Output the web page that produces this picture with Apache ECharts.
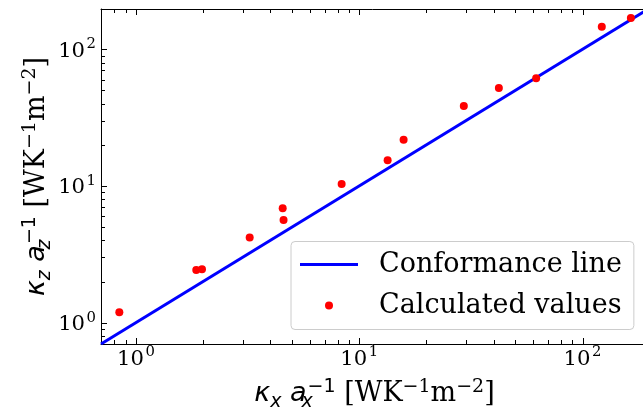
<!DOCTYPE html>
<html>
<head>
<meta charset="utf-8">
<script src="https://cdn.jsdelivr.net/npm/echarts@6/dist/echarts.min.js"></script>
<style>
html,body{margin:0;padding:0;background:#fff;}
#chart{width:643px;height:416px;}
</style>
</head>
<body>
<div id="chart"></div>
<script>
// ---- data ----
const calcX = [0.842, 1.862, 1.975, 3.23, 4.54, 4.58, 8.34, 13.4, 15.8, 29.4, 42.2, 62.0, 122, 164.7];
const calcY = [1.19, 2.43, 2.46, 4.19, 6.87, 5.64, 10.34, 15.4, 21.8, 38.5, 52.1, 61.4, 146, 169];
const lineX = [0.697, 197];
const lineY = [0.697, 197];
const xRange = [0.697, 196.5];
const yRange = [0.698, 197];
const majorTicks = [1, 10, 100];
const minorTicks = [0.8, 0.9, 2, 3, 4, 5, 6, 7, 8, 9, 20, 30, 40, 50, 60, 70, 80, 90];
const seriesNames = ['Conformance line', 'Calculated values'];

const SERIF = 'DejaVu Serif';
const SANS = 'DejaVu Sans';
const MAJOR_LEN = 6, MINOR_LEN = 4;

function tickData(list, len, isX) {
  return list.map(v => isX ? [v, yRange[0], len] : [xRange[0], v, len]);
}
const xTickData = tickData(majorTicks, MAJOR_LEN, true).concat(tickData(minorTicks, MINOR_LEN, true));
const yTickData = tickData(majorTicks, MAJOR_LEN, false).concat(tickData(minorTicks, MINOR_LEN, false));

function powLabel(v) {
  const e = Math.round(Math.log10(v));
  if (Math.abs(Math.log10(v) - e) > 1e-6) return '';
  return '{b|10}{g|}{s|' + e + '}';
}
const tickRich = {
  b: { fontFamily: SERIF, fontSize: 21.2, color: '#000', lineHeight: 25, verticalAlign: 'bottom' },
  g: { width: 1.5, lineHeight: 1 },
  s: { fontFamily: SERIF, fontSize: 14.8, color: '#000', lineHeight: 15, verticalAlign: 'top' }
};

const NF = 27, NS = 19;
function nameRich() {
  return {
    m: { fontFamily: SANS, fontStyle: 'italic', fontSize: NF, color: '#000', lineHeight: 40, verticalAlign: 'middle' },
    sb: { fontFamily: SANS, fontStyle: 'italic', fontSize: NS, color: '#000', lineHeight: 20, verticalAlign: 'bottom', padding: [0, 0, 2, 0] },
    sbz: { fontFamily: SANS, fontStyle: 'italic', fontSize: NS, color: '#000', lineHeight: 20, verticalAlign: 'bottom', padding: [0, 0, 2, 0], width: 1 },
    sp: { fontFamily: SANS, fontSize: NS, color: '#000', lineHeight: 20, verticalAlign: 'top', padding: [4, 0, 0, 0] },
    t: { fontFamily: SERIF, fontSize: NF, color: '#000', lineHeight: 40, verticalAlign: 'middle' },
    ts: { fontFamily: SERIF, fontSize: NS, color: '#000', lineHeight: 20, verticalAlign: 'top', padding: [4, 0, 0, 0] }
  };
}
function axisName(sub) {
  return '{m|κ}{sb|' + sub + '}{m| a}{sbz|' + sub + '}{sp|−1}{t| [WK}{ts|−1}{t|m}{ts|−2}{t|]}';
}

function tickRenderer(isX) {
  return function (params, api) {
    const cs = params.coordSys;
    const p = api.coord([api.value(0), api.value(1)]);
    const len = api.value(2);
    const style = { stroke: '#000', lineWidth: 1 };
    const children = [];
    if (isX) {
      const x = Math.round(p[0]) + 0.5;
      if (x < cs.x || x > cs.x + cs.width) return;
      const yb = cs.y + cs.height, yt = cs.y;
      children.push({ type: 'line', shape: { x1: x, y1: yb, x2: x, y2: yb - len }, style });
      children.push({ type: 'line', shape: { x1: x, y1: yt, x2: x, y2: yt + len }, style });
    } else {
      const y = Math.round(p[1]) + 0.5;
      if (y < cs.y || y > cs.y + cs.height) return;
      const xl = cs.x;
      children.push({ type: 'line', shape: { x1: xl, y1: y, x2: xl + len, y2: y }, style });
    }
    return { type: 'group', children };
  };
}

const spine = { show: true, lineStyle: { color: '#000', width: 1 } };

const chart = echarts.init(document.getElementById('chart'), null, { renderer: 'canvas' });
chart.setOption({
  animation: false,
  backgroundColor: '#fff',
  grid: {
    left: 101, top: 9, width: 547, height: 335,
    outerBoundsMode: 'none', containLabel: false, show: false
  },
  xAxis: [
    {
      type: 'log', logBase: 10, min: xRange[0], max: xRange[1], position: 'bottom',
      axisLine: spine, axisTick: { show: false }, splitLine: { show: false },
      axisLabel: { margin: 1, formatter: powLabel, rich: tickRich, hideOverlap: false },
      name: axisName('x'), nameLocation: 'middle', nameGap: 29.5, nameMoveOverlap: false,
      nameTextStyle: { rich: nameRich() }
    },
    {
      type: 'log', logBase: 10, min: xRange[0], max: xRange[1], position: 'top',
      axisLine: spine, axisTick: { show: false }, splitLine: { show: false },
      axisLabel: { show: false }
    }
  ],
  yAxis: {
    type: 'log', logBase: 10, min: yRange[0], max: yRange[1],
    axisLine: spine, axisTick: { show: false }, splitLine: { show: false },
    axisLabel: { margin: 5, formatter: powLabel, rich: tickRich, hideOverlap: false },
    name: axisName('z'), nameLocation: 'middle', nameGap: 44, nameMoveOverlap: false,
    nameTextStyle: { rich: nameRich() }
  },
  legend: {
    data: [
      { name: seriesNames[0], icon: 'path://M0,0L58,0L58,3L0,3Z' },
      { name: seriesNames[1], icon: 'circle' }
    ],
    orient: 'vertical', left: 291, top: 241.5,
    padding: [8, 12, 9, 9],
    itemWidth: 58, itemHeight: 8, itemGap: 11,
    backgroundColor: 'rgba(255,255,255,0.8)', borderColor: '#cccccc', borderWidth: 1, borderRadius: 4,
    textStyle: { fontFamily: SERIF, fontSize: NF, color: '#000', lineHeight: 30, padding: [0, 0, 0, 16] },
    selectedMode: false
  },
  series: [
    {
      name: 'xticks', type: 'custom', silent: true, z: 1,
      renderItem: tickRenderer(true), data: xTickData
    },
    {
      name: 'yticks', type: 'custom', silent: true, z: 1,
      renderItem: tickRenderer(false), data: yTickData
    },
    {
      name: seriesNames[0], type: 'line', symbol: 'none', showSymbol: false, z: 3,
      lineStyle: { color: '#0000ff', width: 3 }, itemStyle: { color: '#0000ff' },
      data: lineX.map((x, i) => [x, lineY[i]])
    },
    {
      name: seriesNames[1], type: 'scatter', symbol: 'circle', symbolSize: 8, z: 4,
      itemStyle: { color: '#ff0000', opacity: 1 },
      data: calcX.map((x, i) => [x, calcY[i]])
    }
  ]
});
</script>
</body>
</html>
